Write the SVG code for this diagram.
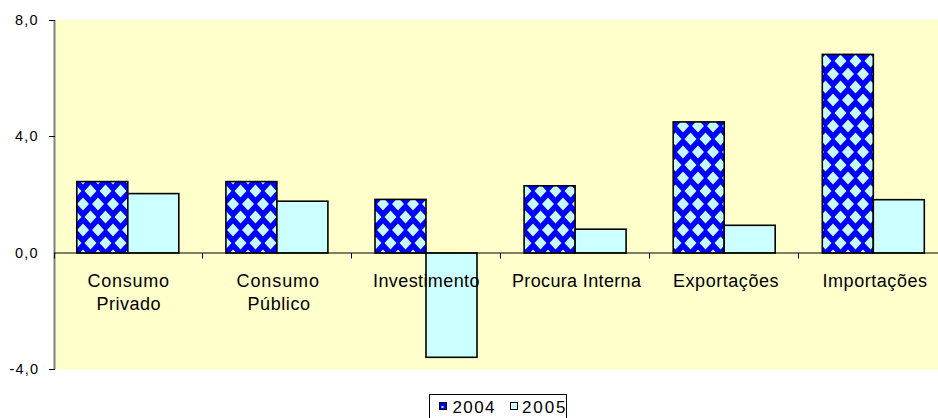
<svg xmlns="http://www.w3.org/2000/svg" width="938" height="418" viewBox="0 0 938 418">
<style>
.bar4{fill:url(#dia);stroke:#000;stroke-width:1.6}
.bar5{fill:#CCFFFF;stroke:#000;stroke-width:1.6}
.cat{font-family:"Liberation Sans",Arial,sans-serif;font-size:18px;fill:#000}
.ylab{font-family:"Liberation Sans",Arial,sans-serif;font-size:14.5px;fill:#000}
.leg{font-family:"Liberation Sans",Arial,sans-serif;font-size:17px;fill:#000}
.tick{stroke:#000;stroke-width:1}
</style>
<defs>
<pattern id="dia" patternUnits="userSpaceOnUse" x="8" y="22" width="15" height="26">
<rect width="15" height="26" fill="#0000FF"/>
<path d="M0,-6.5 L6,0 L0,6.5 L-6,0Z M15,-6.5 L21,0 L15,6.5 L9,0Z M0,19.5 L6,26 L0,32.5 L-6,26Z M15,19.5 L21,26 L15,32.5 L9,26Z M7.5,6.5 L13.5,13 L7.5,19.5 L1.5,13Z" fill="#C4FBFF"/>
</pattern>
</defs>
<rect x="0" y="0" width="938" height="418" fill="#FFFFFF"/>
<rect x="55" y="20" width="883" height="349.5" fill="#FFFFCC"/>

<g id="axes">
<line x1="54.5" y1="20" x2="54.5" y2="369.5" stroke="#808080" stroke-width="2"/>
<line class="tick" x1="49" y1="20.5" x2="55" y2="20.5"/>
<line class="tick" x1="49" y1="136.5" x2="55" y2="136.5"/>
<line class="tick" x1="49" y1="369.5" x2="55" y2="369.5"/>
<text class="ylab" x="15" y="24.8" textLength="22.5" lengthAdjust="spacing">8,0</text>
<text class="ylab" x="15" y="141.3" textLength="22.5" lengthAdjust="spacing">4,0</text>
<text class="ylab" x="15" y="257.8" textLength="22.5" lengthAdjust="spacing">0,0</text>
<text class="ylab" x="9.5" y="374.3" textLength="28.5" lengthAdjust="spacing">-4,0</text>
</g>

<g id="consumo-privado">
<rect class="bar4" x="76.8" y="181.6" width="51" height="71.4"/>
<rect class="bar5" x="127.8" y="193.6" width="51" height="59.4"/>
</g>
<g id="consumo-publico">
<rect class="bar4" x="225.9" y="181.6" width="51" height="71.4"/>
<rect class="bar5" x="276.9" y="201.2" width="51" height="51.8"/>
</g>
<g id="investimento">
<rect class="bar4" x="375" y="199.4" width="51" height="53.6"/>
<rect class="bar5" x="426" y="253" width="51" height="104.3"/>
</g>
<g id="procura-interna">
<rect class="bar4" x="524.1" y="185.8" width="51" height="67.2"/>
<rect class="bar5" x="575.1" y="229.2" width="51" height="23.8"/>
</g>
<g id="exportacoes">
<rect class="bar4" x="673.2" y="121.9" width="51" height="131.1"/>
<rect class="bar5" x="724.2" y="225.3" width="51" height="27.7"/>
</g>
<g id="importacoes">
<rect class="bar4" x="822.3" y="54.4" width="51" height="198.6"/>
<rect class="bar5" x="873.3" y="199.7" width="51" height="53.3"/>
</g>

<g id="zero-axis">
<line x1="54" y1="253" x2="938" y2="253" stroke="#000" stroke-width="1.2"/>
<line class="tick" x1="54.5" y1="253" x2="54.5" y2="258.5"/>
<line class="tick" x1="202.5" y1="253" x2="202.5" y2="258.5"/>
<line class="tick" x1="351.5" y1="253" x2="351.5" y2="258.5"/>
<line class="tick" x1="500.5" y1="253" x2="500.5" y2="258.5"/>
<line class="tick" x1="649.5" y1="253" x2="649.5" y2="258.5"/>
<line class="tick" x1="798.5" y1="253" x2="798.5" y2="258.5"/>
</g>

<g id="labels">
<text class="cat" x="87.5" y="286.5" textLength="81.5" lengthAdjust="spacing">Consumo</text>
<text class="cat" x="96.5" y="310" textLength="64" lengthAdjust="spacing">Privado</text>
<text class="cat" x="236.5" y="286.5" textLength="82.5" lengthAdjust="spacing">Consumo</text>
<text class="cat" x="247.5" y="310" textLength="62.5" lengthAdjust="spacing">Público</text>
<text class="cat" x="373" y="286.5" textLength="106.5" lengthAdjust="spacing">Investimento</text>
<text class="cat" x="512" y="286.5" textLength="129" lengthAdjust="spacing">Procura Interna</text>
<text class="cat" x="673" y="286.5" textLength="105.5" lengthAdjust="spacing">Exportações</text>
<text class="cat" x="822.5" y="286.5" textLength="104.5" lengthAdjust="spacing">Importações</text>
</g>

<g id="legend">
<rect x="429.5" y="394.5" width="137" height="30" fill="#FFFFFF" stroke="#000" stroke-width="1"/>
<rect x="439.5" y="402.5" width="7" height="7" fill="#0000FF" stroke="#000" stroke-width="1"/>
<rect x="441.5" y="406" width="2" height="2" fill="#C4FBFF"/>
<text class="leg" x="452.5" y="412.5" textLength="42" lengthAdjust="spacing">2004</text>
<rect x="510.5" y="402.5" width="7" height="7" fill="#CCFFFF" stroke="#000" stroke-width="1"/>
<text class="leg" x="522" y="412.5" textLength="43.5" lengthAdjust="spacing">2005</text>
</g>
</svg>
